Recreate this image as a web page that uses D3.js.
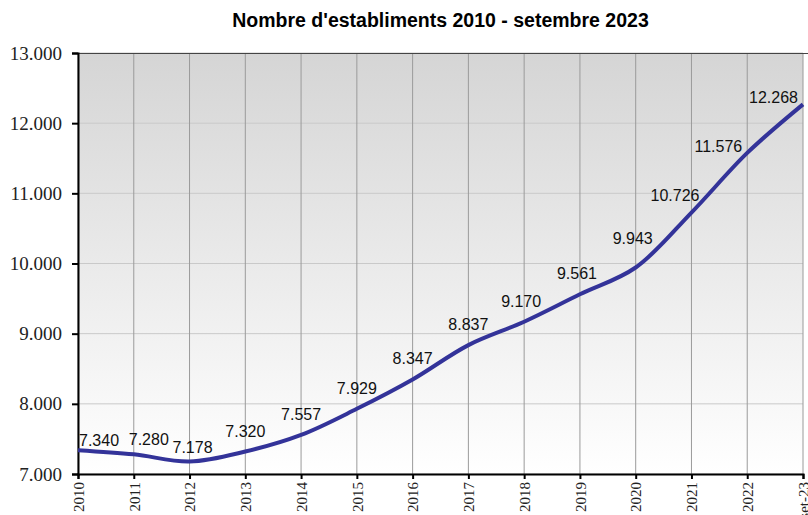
<!DOCTYPE html>
<html>
<head>
<meta charset="utf-8">
<script src="https://cdn.jsdelivr.net/npm/d3@7"></script>
<style>
  body { margin: 0; background: #fff; }
  svg { display: block; }
</style>
</head>
<body>
<svg width="808" height="515"></svg>
<script>
var years = ["2010", "2011", "2012", "2013", "2014", "2015", "2016", "2017",
             "2018", "2019", "2020", "2021", "2022", "set-23"];
var establiments = [7340, 7280, 7178, 7320, 7557, 7929, 8347, 8837,
                    9170, 9561, 9943, 10726, 11576, 12268];
var yTicks = [7000, 8000, 9000, 10000, 11000, 12000, 13000];

var data = years.map(function(d, i) { return {year: d, value: establiments[i]}; });

var svg = d3.select("svg"),
    margin = {top: 53, right: 5, bottom: 41, left: 78},
    width = +svg.attr("width") - margin.left - margin.right,
    height = +svg.attr("height") - margin.top - margin.bottom;

var sans = "'Liberation Sans', Arial, sans-serif";
var serif = "'Liberation Serif', 'Times New Roman', serif";

var fmt = function(v) { return d3.format(",")(v).replace(/,/g, "."); };

var x = d3.scalePoint().domain(years).range([0, width]);
var y = d3.scaleLinear().domain([7000, 13000]).range([height, 0]);

var grad = svg.append("defs").append("linearGradient")
    .attr("id", "bg").attr("x1", 0).attr("y1", 0).attr("x2", 0).attr("y2", 1);
grad.append("stop").attr("offset", "0%").attr("stop-color", "#d5d5d5");
grad.append("stop").attr("offset", "100%").attr("stop-color", "#ffffff");

svg.append("text")
    .attr("x", margin.left + width / 2)
    .attr("y", 27)
    .attr("text-anchor", "middle")
    .attr("font-family", sans)
    .attr("font-weight", "bold")
    .attr("font-size", 19.5)
    .text("Nombre d'establiments 2010 - setembre 2023");

var g = svg.append("g")
    .attr("transform", "translate(" + margin.left + "," + margin.top + ")");

g.append("rect")
    .attr("width", width)
    .attr("height", height)
    .attr("fill", "url(#bg)");

// horizontal grid
g.append("g")
  .selectAll("line")
  .data(yTicks)
  .enter().append("line")
    .attr("x1", 0).attr("x2", width)
    .attr("y1", function(d) { return y(d); })
    .attr("y2", function(d) { return y(d); })
    .attr("stroke", "#c9c9c9")
    .attr("stroke-width", 1);

// vertical grid
g.append("g")
  .selectAll("line")
  .data(years)
  .enter().append("line")
    .attr("x1", function(d) { return x(d); })
    .attr("x2", function(d) { return x(d); })
    .attr("y1", 0).attr("y2", height)
    .attr("stroke", "#9a9a9a")
    .attr("stroke-width", 1);

// top border
g.append("line")
    .attr("x1", 0).attr("x2", width + margin.right)
    .attr("y1", 0.5).attr("y2", 0.5)
    .attr("stroke", "#444").attr("stroke-width", 1);

g.append("g")
    .attr("class", "y axis")
    .call(d3.axisLeft(y).tickValues(yTicks).tickFormat(fmt).tickSize(6).tickPadding(10))
    .call(function(a) {
      a.attr("font-family", serif);
      a.select(".domain").attr("stroke", "#000").attr("stroke-width", 2);
      a.selectAll(".tick line").attr("stroke", "#000").attr("stroke-width", 2);
      a.selectAll(".tick text")
        .attr("font-size", 19)
        .attr("fill", "#222");
    });

g.append("g")
    .attr("class", "x axis")
    .attr("transform", "translate(0," + height + ")")
    .call(d3.axisBottom(x).tickSize(5))
    .call(function(a) {
      a.attr("font-family", serif);
      a.select(".domain").attr("stroke", "#000").attr("stroke-width", 2);
      a.selectAll(".tick line").attr("stroke", "#000").attr("stroke-width", 2);
      a.selectAll(".tick text")
        .attr("transform", "rotate(-90)")
        .attr("text-anchor", "end")
        .attr("x", -8)
        .attr("y", 0)
        .attr("dy", "0.35em")
        .attr("font-size", 15)
        .attr("fill", "#222");
    });

var line = d3.line()
    .x(function(d) { return x(d.year); })
    .y(function(d) { return y(d.value); })
    .curve(d3.curveCatmullRom.alpha(0.5));

g.append("path")
    .datum(data)
    .attr("fill", "none")
    .attr("stroke", "#333399")
    .attr("stroke-width", 4)
    .attr("stroke-linejoin", "round")
    .attr("d", line);

// value labels: above the point, nudged off the line near the ends
var n = data.length;
g.selectAll(".lbl")
    .data(data)
  .enter().append("text")
    .attr("class", "lbl")
    .attr("font-family", sans)
    .attr("font-size", 16)
    .attr("fill", "#111")
    .attr("x", function(d, i) {
      var px = x(d.year);
      if (i === 0) return px + 1;
      if (i === 1) return px + 15;
      if (i === 2) return px + 3;
      if (i === n - 3) return px + 8;
      if (i >= n - 2) return px - 5;
      if (i >= 8) return px - 3;
      return px;
    })
    .attr("y", function(d, i) {
      var py = y(d.value);
      if (i === 0) return py - 4;
      if (i === 1 || i === 2) return py - 9;
      if (i === n - 3) return py - 12;
      if (i >= n - 2) return py - 1;
      if (i === n - 4) return py - 23;
      return py - 15;
    })
    .attr("text-anchor", function(d, i) {
      if (i === 0) return "start";
      if (i >= n - 3) return "end";
      return "middle";
    })
    .text(function(d) { return fmt(d.value); });
</script>
</body>
</html>
